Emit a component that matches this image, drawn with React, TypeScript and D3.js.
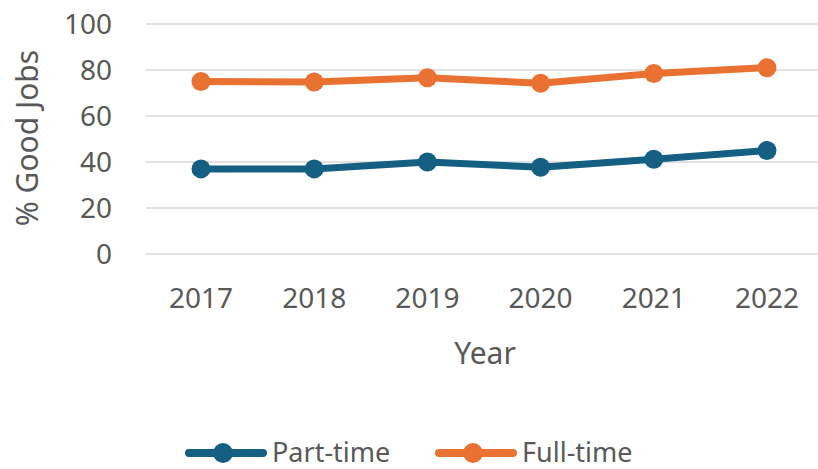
import React from "react"
import * as d3 from "d3"

const years = ["2017", "2018", "2019", "2020", "2021", "2022"]
const partTime = [37, 37, 40, 37.7, 41.2, 45]
const fullTime = [75, 74.8, 76.6, 74.2, 78.5, 81]
const yTicks = [0, 20, 40, 60, 80, 100]

const BLUE = "#156082"
const ORANGE = "#E97132"
const TEXT = "#595959"
const FONT = "'Noto Sans', sans-serif"

export default function App() {
    const width = 818
    const height = 469

    const x = d3.scalePoint<string>().domain(years).range([201, 767])
    const y = d3.scaleLinear().domain([0, 100]).range([254, 24])

    const line = d3
        .line<number>()
        .x((d, i) => x(years[i]) as number)
        .y(d => y(d))

    const series = [
        { name: "Part-time", values: partTime, color: BLUE },
        { name: "Full-time", values: fullTime, color: ORANGE },
    ]

    // legend entries laid out left to right
    const legendX = [185, 435]

    return (
        <svg
            width={width}
            height={height}
            style={{ position: "absolute", left: 0, top: 0, background: "#fff" }}
            fontFamily={FONT}
        >
            {yTicks.map(t => (
                <g key={t}>
                    <line x1={146} x2={818} y1={y(t)} y2={y(t)} stroke="#d9d9d9" strokeWidth={1.6} />
                    <text x={112} y={y(t)} dy="0.35em" textAnchor="end" fontSize={28} fill={TEXT}>
                        {t}
                    </text>
                </g>
            ))}

            {years.map(yr => (
                <text key={yr} x={x(yr)} y={308} textAnchor="middle" fontSize={28} fill={TEXT}>
                    {yr}
                </text>
            ))}

            <text x={485} y={364} textAnchor="middle" fontSize={30} fill={TEXT}>
                Year
            </text>
            <text
                transform="translate(38,138) rotate(-90)"
                textAnchor="middle"
                fontSize={30}
                fill={TEXT}
            >
                % Good Jobs
            </text>

            {series.map(s => (
                <g key={s.name}>
                    <path
                        d={line(s.values) || ""}
                        fill="none"
                        stroke={s.color}
                        strokeWidth={7}
                        strokeLinejoin="round"
                    />
                    {s.values.map((v, i) => (
                        <circle key={i} cx={x(years[i])} cy={y(v)} r={9.5} fill={s.color} />
                    ))}
                </g>
            ))}

            {series.map((s, i) => (
                <g key={s.name} transform={`translate(${legendX[i]},453)`}>
                    <line x1={4} x2={78} y1={0} y2={0} stroke={s.color} strokeWidth={8} strokeLinecap="round" />
                    <circle cx={38} cy={0} r={10} fill={s.color} />
                    <text x={87} y={0} dy="0.34em" fontSize={27} fill={TEXT}>
                        {s.name}
                    </text>
                </g>
            ))}
        </svg>
    )
}
